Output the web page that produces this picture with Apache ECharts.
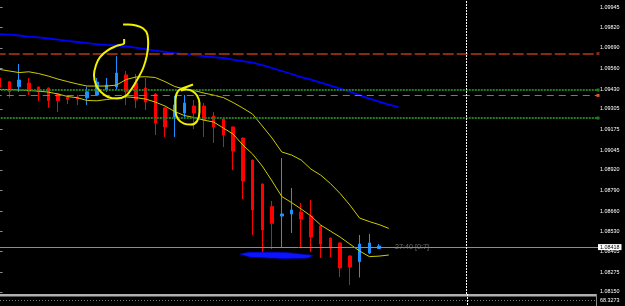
<!DOCTYPE html>
<html><head><meta charset="utf-8">
<script src="https://cdn.jsdelivr.net/npm/echarts@6/dist/echarts.min.js"></script>
<style>html,body{margin:0;padding:0;background:#000;}#c{width:625px;height:306px;}</style>
</head><body><div id="c"></div>
<script>
// ---- data ----
const categories = Array.from({length: 62}, (_, i) => String(i)); // bar slots (40 bars + future space)
const opens  = [1.09500,1.09476,1.09445,1.09468,1.09443,1.09437,1.09399,1.09378,1.09380,1.09375,1.09393,1.09424,1.09443,1.09519,1.09468,1.09437,1.09399,1.09311,1.09254,1.09279,1.09323,1.09323,1.09260,1.09241,1.09191,1.09121,1.08982,1.08831,1.08688,1.08629,1.08642,1.08654,1.08629,1.08566,1.08490,1.08459,1.08377,1.08341,1.08396,1.08424];
const closes = [1.09443,1.09413,1.09487,1.09417,1.09413,1.09357,1.09357,1.09365,1.09367,1.09413,1.09474,1.09456,1.09531,1.09412,1.09361,1.09348,1.09216,1.09191,1.09330,1.09342,1.09279,1.09235,1.09191,1.09140,1.09039,1.08850,1.08667,1.08541,1.08583,1.08642,1.08667,1.08610,1.08497,1.08452,1.08427,1.08301,1.08307,1.08452,1.08459,1.08440];
const lows   = [1.09437,1.09375,1.09412,1.09393,1.09355,1.09312,1.09285,1.09336,1.09330,1.09330,1.09393,1.09412,1.09424,1.09330,1.09310,1.09298,1.09140,1.09128,1.09128,1.09254,1.09178,1.09128,1.09090,1.09064,1.08919,1.08736,1.08509,1.08396,1.08421,1.08433,1.08522,1.08433,1.08402,1.08364,1.08370,1.08244,1.08194,1.08241,1.08389,1.08421];
const highs  = [1.09506,1.09481,1.09588,1.09500,1.09446,1.09440,1.09405,1.09393,1.09393,1.09445,1.09500,1.09500,1.09638,1.09544,1.09525,1.09500,1.09405,1.09317,1.09386,1.09393,1.09361,1.09342,1.09285,1.09244,1.09194,1.09124,1.08985,1.08834,1.08724,1.08995,1.08806,1.08711,1.08730,1.08569,1.08493,1.08462,1.08380,1.08509,1.08516,1.08452];
const maLine = [1.09777,1.09774,1.09768,1.09761,1.09756,1.09749,1.09742,1.09734,1.09727,1.09720,1.09714,1.09709,1.09705,1.09699,1.09692,1.09682,1.09673,1.09665,1.09657,1.09651,1.09645,1.09638,1.09632,1.09626,1.09616,1.09607,1.09597,1.09581,1.09563,1.09544,1.09525,1.09506,1.09490,1.09471,1.09452,1.09433,1.09414,1.09392,1.09370,1.09351,1.09332,1.09316];
const upperBand = [1.09554,1.09544,1.09534,1.09539,1.09528,1.09512,1.09493,1.09477,1.09462,1.09449,1.09449,1.09449,1.09455,1.09490,1.09506,1.09508,1.09503,1.09477,1.09446,1.09430,1.09421,1.09405,1.09392,1.09376,1.09345,1.09310,1.09272,1.09197,1.09121,1.09033,1.09014,1.08982,1.08925,1.08887,1.08834,1.08771,1.08698,1.08616,1.08594,1.08575,1.08551];
const lowerBand = [1.09428,1.09427,1.09424,1.09421,1.09417,1.09411,1.09399,1.09383,1.09375,1.09358,1.09356,1.09364,1.09373,1.09381,1.09376,1.09367,1.09348,1.09323,1.09288,1.09263,1.09250,1.09234,1.09222,1.09184,1.09146,1.09077,1.09020,1.08944,1.08850,1.08752,1.08714,1.08673,1.08629,1.08572,1.08534,1.08496,1.08452,1.08408,1.08373,1.08376,1.08383];
const yTicks = [1.09945,1.09820,1.09690,1.09560,1.09430,1.09305,1.09175,1.09045,1.08920,1.08790,1.08660,1.08530,1.08405,1.08275,1.08150];
const levelPrices = [1.09654, 1.09424, 1.09390, 1.09247];
const bidPrice = 1.08433;
const bidLabel = '1.08418';
const futureBar = '48';
const timerText = '27:40 [0:7]';
const subLabel = '68.3273';
// hand-drawn annotations (bar position, price)
const circle1X = [12.80,12.80,11.97,11.14,10.32,9.91,9.70,9.91,10.42,11.14,12.07,13.00,13.62,14.24,14.76,15.12,15.27,15.17,14.76,14.03,13.21,12.69];
const circle1Y = [1.09746,1.09720,1.09701,1.09676,1.09632,1.09582,1.09518,1.09455,1.09411,1.09380,1.09370,1.09389,1.09436,1.09500,1.09563,1.09638,1.09714,1.09777,1.09812,1.09831,1.09838,1.09838];
const circle2X = [19.88,19.05,18.33,18.08,18.08,18.33,18.95,19.67,20.29,20.54,20.54,20.29,19.82,19.16,18.64];
const circle2Y = [1.09459,1.09440,1.09417,1.09361,1.09291,1.09241,1.09212,1.09206,1.09228,1.09285,1.09342,1.09389,1.09417,1.09427,1.09421];
const smearX = [24.71,25.74,29.33,32.21,31.70,28.82,25.74];
const smearY = [1.08389,1.08400,1.08399,1.08380,1.08364,1.08361,1.08370];

// ---- chart ----
const chart = echarts.init(document.getElementById('c'), null, {renderer: 'canvas'});
const candleData = opens.map((o, i) => [o, closes[i], lows[i], highs[i]]);
const pairs = (xs, ys) => xs.map((x, i) => [x, ys[i]]);
const levelStyles = [
  {color: '#8b2a0a', type: [11, 3], width: 2},
  {color: '#1f7f1f', type: [2, 1], width: 2},
  {color: '#e0561e', type: [7, 5], width: 1},
  {color: '#1f7f1f', type: [2, 1], width: 2}
];
const FONT = 'Liberation Sans, Arial, sans-serif';

chart.setOption({
  backgroundColor: '#000',
  animation: false,
  grid: {left: -5.265, right: 27, top: 0, bottom: 12, containLabel: false, outerBoundsMode: 'none'},
  xAxis: [
    {type: 'category', data: categories, boundaryGap: true, show: false},
    {type: 'value', min: -0.5, max: 61.5, show: false}
  ],
  yAxis: {
    type: 'value', position: 'right', min: 1.08137, max: 1.09992, offset: -2,
    axisLine: {show: true, lineStyle: {color: '#8a8a8a', width: 1}},
    axisTick: {show: true, length: 3, inside: false, customValues: yTicks, lineStyle: {color: '#8a8a8a'}},
    axisLabel: {customValues: yTicks, formatter: v => v.toFixed(5), color: '#ffffff', fontSize: 5.4, margin: 4, fontFamily: FONT},
    splitLine: {show: false}
  },
  series: [
    {
      name: 'levels', type: 'line', data: lowerBand, symbol: 'none', z: 1, lineStyle: {opacity: 0},
      markLine: {
        silent: true, animation: false, precision: 5, symbol: ['none', 'rect'], symbolSize: 3,
        label: {show: false},
        data: levelPrices.map((p, i) => ({yAxis: p, lineStyle: levelStyles[i]}))
      }
    },
    {
      name: 'bidline', type: 'line', data: lowerBand, symbol: 'none', z: 2, lineStyle: {opacity: 0},
      markLine: {
        silent: true, animation: false, precision: 5, symbol: ['none', 'none'],
        data: [{
          yAxis: bidPrice,
          lineStyle: {color: '#8c8c8c', type: 'solid', width: 1},
          label: {show: true, position: 'end', distance: 0, formatter: bidLabel, color: '#000', backgroundColor: '#ffffff',
                  fontSize: 5.4, fontFamily: FONT, padding: [1, 2, 0, 2]}
        }]
      }
    },
    {
      name: 'future', type: 'line', data: [], z: 1,
      markLine: {
        silent: true, animation: false, symbol: 'none', label: {show: false},
        lineStyle: {color: '#ffffff', type: [2, 1], width: 1},
        data: [{xAxis: futureBar}]
      }
    },
    {name: 'upper', type: 'line', data: upperBand, symbol: 'none', z: 4, lineStyle: {color: '#cccc00', width: 1}},
    {name: 'lower', type: 'line', data: lowerBand, symbol: 'none', z: 4, lineStyle: {color: '#cccc00', width: 1}},
    {name: 'ma', type: 'line', data: maLine, symbol: 'none', z: 4, lineStyle: {color: '#0000ff', width: 1.8}},
    {
      name: 'price', type: 'candlestick', data: candleData, barWidth: 3, z: 3,
      itemStyle: {color: '#1e90ff', color0: '#ff0000', borderColor: '#1e90ff', borderColor0: '#ff0000', borderWidth: 1}
    },
    {name: 'circle1', type: 'line', xAxisIndex: 1, data: pairs(circle1X, circle1Y), symbol: 'none', smooth: 0.35, z: 6,
     lineStyle: {color: '#f2f200', width: 2}},
    {name: 'circle2', type: 'line', xAxisIndex: 1, data: pairs(circle2X, circle2Y), symbol: 'none', smooth: 0.35, z: 6,
     lineStyle: {color: '#f2f200', width: 2}},
    {
      name: 'smear', type: 'custom', xAxisIndex: 1, data: pairs(smearX, smearY), z: 5,
      renderItem: (params, api) => {
        if (params.dataIndex !== 0) return null;
        const pts = smearX.map((x, i) => api.coord([x, smearY[i]]));
        return {type: 'polygon', shape: {points: pts, smooth: 0.1}, style: {fill: '#0a14ff', stroke: '#0000ee', lineWidth: 0.5}};
      }
    }
  ]
});

// sub-window decorations and extensions below the main window
const vx = chart.convertToPixel({xAxisIndex: 0}, futureBar);
const bidY = chart.convertToPixel({yAxisIndex: 0}, bidPrice);
chart.setOption({
  graphic: [
    {type: 'rect', shape: {x: 0, y: 294, width: 596, height: 2}, style: {fill: '#b0b0b0'}, silent: true},
    {type: 'line', shape: {x1: 0, y1: 296.5, x2: 596, y2: 296.5}, style: {stroke: '#5a5a5a', lineWidth: 1}, silent: true},
    {type: 'line', shape: {x1: 0, y1: 300.5, x2: 596, y2: 300.5}, style: {stroke: '#7a7a7a', lineWidth: 1, lineDash: [1, 2]}, silent: true},
    {type: 'line', shape: {x1: 596.5, y1: 294, x2: 596.5, y2: 306}, style: {stroke: '#8a8a8a', lineWidth: 1}, silent: true},
    {type: 'line', shape: {x1: Math.round(vx) + 0.5, y1: 294, x2: Math.round(vx) + 0.5, y2: 306}, style: {stroke: '#ffffff', lineWidth: 1, lineDash: [2, 1]}, silent: true, z: 10},
    {type: 'text', x: 600, y: 301, style: {text: subLabel, fill: '#ffffff', fontSize: 5.4, fontFamily: FONT, verticalAlign: 'middle'}, silent: true},
    {type: 'text', x: 395, y: bidY, style: {text: timerText, fill: '#6e6e6e', fontSize: 7.2, fontFamily: FONT, verticalAlign: 'middle'}, silent: true}
  ]
});
</script>
</body></html>
